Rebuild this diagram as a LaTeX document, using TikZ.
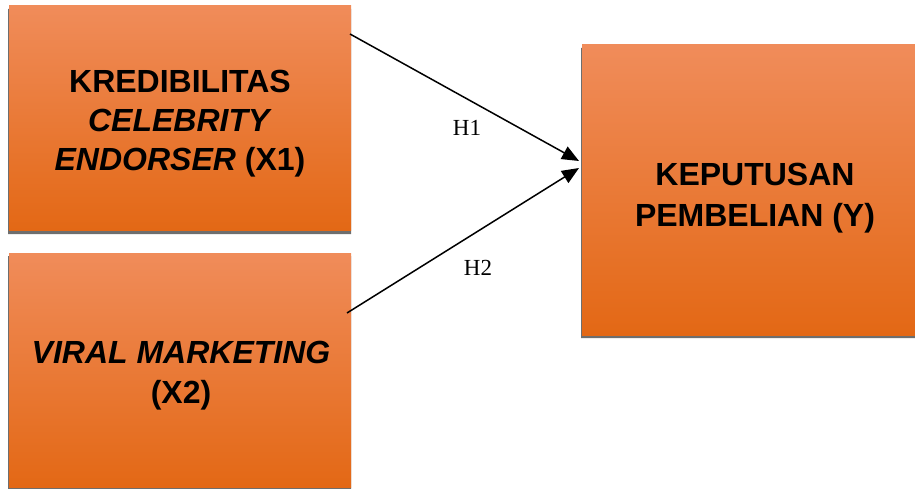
\documentclass[tikz,border=0pt]{standalone}
\usepackage{fontspec}
\setmainfont{Liberation Serif}
\setsansfont{Liberation Sans}
\usetikzlibrary{arrows.meta}
\definecolor{kvtop}{HTML}{F08C5A}
\definecolor{kvmid}{HTML}{F27B28}
\definecolor{kvbot}{HTML}{E36815}
\definecolor{kvshadow}{HTML}{6E6E6E}
\tikzset{
	kvbox/.style={rectangle,inner sep=0pt,outer sep=0pt,top color=kvtop,middle color=kvmid,bottom color=kvbot},
	kvtext/.style={align=center,inner sep=0pt,font=\sffamily\bfseries\fontsize{32}{39}\selectfont},
	kvlabel/.style={font=\fontsize{23}{27}\selectfont}
}
\begin{document}
\begin{tikzpicture}[x=1pt,y=-1pt,>={Triangle[length=17pt,width=14pt]}]
	\useasboundingbox (0,0) rectangle (915,489);
	% shadows
	\fill[kvshadow] (8,9) rectangle (351,234) (8,256) rectangle (351,489) (581,48) rectangle (935,338);
	\node[kvbox,minimum width=342pt,minimum height=225pt] (kvna) at (180,118) {};
	\node[kvbox,minimum width=342pt,minimum height=234pt] (kvnb) at (180,370) {};
	\node[kvbox,minimum width=352pt,minimum height=290pt] (kvnc) at (758,190) {};
	\node[kvtext] (kvta) at (180,124) {KREDIBILITAS\\\textit{CELEBRITY}\\\textit{ENDORSER} (X1)};
	\node[kvtext,font=\sffamily\bfseries\fontsize{32}{40}\selectfont] (kvtb) at (181,376) {\textit{VIRAL MARKETING}\\(X2)};
	\node[kvtext,font=\sffamily\bfseries\fontsize{32}{41}\selectfont] (kvtc) at (755,198) {KEPUTUSAN\\PEMBELIAN (Y)};
	\coordinate (kvsa) at (350,34);
	\coordinate (kvsb) at (347,313);
	\coordinate (kvea) at (579,161);
	\coordinate (kveb) at (579,168);
	\draw[->,line width=1.5pt] (kvsa) -- (kvea);
	\draw[->,line width=1.5pt] (kvsb) -- (kveb);
	\node[kvlabel] (kvha) at (467,128) {H1};
	\node[kvlabel] (kvhb) at (478,268) {H2};
\end{tikzpicture}
\end{document}
